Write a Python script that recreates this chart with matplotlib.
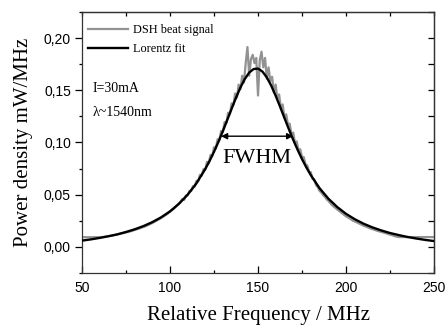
import matplotlib
matplotlib.use("Agg")
import matplotlib.pyplot as plt
from matplotlib.ticker import MultipleLocator

# --- data ---
# measured beat signal (MHz, mW/MHz)
sig_x = [50, 58, 60, 62, 64, 66, 68, 70, 72, 74, 76, 78, 80, 82, 84, 86, 88, 90,
         92, 94, 96, 98, 100, 102, 104, 106, 107, 108, 109, 110, 111, 112, 113,
         114, 115, 116, 117, 118, 119, 120, 121, 122, 123, 124, 125, 126, 127,
         128, 129, 130, 131, 132, 133, 134, 135, 136, 137, 138, 139, 140, 141,
         142, 143, 144, 145, 146, 147, 148, 149, 150, 151, 152, 153, 154, 155,
         156, 157, 158, 159, 160, 161, 162, 163, 164, 165, 166, 167, 168, 169,
         170, 171, 172, 173, 174, 175, 176, 177, 178, 179, 180, 181, 182, 183,
         184, 185, 186, 187, 188, 189, 190, 192, 194, 196, 198, 200, 202, 204,
         206, 208, 210, 212, 214, 216, 218, 220, 222, 224, 226, 228, 230, 250]
sig_y = [0.0092, 0.0092, 0.0092, 0.0094, 0.0099, 0.0103, 0.0110, 0.0117, 0.0126,
         0.0133, 0.0142, 0.0150, 0.0162, 0.0172, 0.0185, 0.0196, 0.0212, 0.0228,
         0.0247, 0.0266, 0.0288, 0.0309, 0.0336, 0.0362, 0.0398, 0.0433, 0.0458,
         0.0449, 0.0492, 0.0494, 0.0535, 0.0534, 0.0580, 0.0577, 0.0632, 0.0628,
         0.0690, 0.0680, 0.0745, 0.0738, 0.0815, 0.0801, 0.0880, 0.0869, 0.0955,
         0.0941, 0.1030, 0.1018, 0.1110, 0.1101, 0.1195, 0.1185, 0.1285, 0.1271,
         0.1375, 0.1358, 0.1470, 0.1430, 0.1555, 0.1510, 0.1640, 0.1575, 0.1760,
         0.1915, 0.1640, 0.1800, 0.1840, 0.1760, 0.1810, 0.1450, 0.1790, 0.1870,
         0.1720, 0.1810, 0.1610, 0.1720, 0.1590, 0.1630, 0.1480, 0.1555, 0.1420,
         0.1460, 0.1330, 0.1365, 0.1240, 0.1270, 0.1175, 0.1180, 0.1080, 0.1095,
         0.0995, 0.1010, 0.0925, 0.0935, 0.0860, 0.0860, 0.0790, 0.0780, 0.0720,
         0.0715, 0.0650, 0.0645, 0.0590, 0.0570, 0.0535, 0.0520, 0.0495, 0.0480,
         0.0455, 0.0440, 0.0400, 0.0372, 0.0345, 0.0318, 0.0292, 0.0272, 0.0250,
         0.0235, 0.0218, 0.0202, 0.0188, 0.0175, 0.0163, 0.0152, 0.0143, 0.0133,
         0.0123, 0.0112, 0.0100, 0.0093, 0.0093]

# Lorentz fit curve
fit_x = [50, 55, 60, 65, 70, 75, 80, 85, 90, 95, 100, 105, 110, 115, 120, 122.5,
         125, 127.5, 130, 132.5, 135, 137.5, 140, 142.5, 145, 147.5, 150, 152.5,
         155, 157.5, 160, 162.5, 165, 167.5, 170, 172.5, 175, 177.5, 180, 185,
         190, 195, 200, 205, 210, 215, 220, 225, 230, 235, 240, 245, 250]
fit_y = [0.0059, 0.0071, 0.0085, 0.0101, 0.0119, 0.0142, 0.0168, 0.0199, 0.0237,
         0.0283, 0.0340, 0.0411, 0.0499, 0.0608, 0.0745, 0.0824, 0.0911, 0.1006,
         0.1108, 0.1215, 0.1323, 0.1429, 0.1527, 0.1609, 0.1670, 0.1704, 0.1708,
         0.1680, 0.1624, 0.1545, 0.1449, 0.1345, 0.1236, 0.1129, 0.1026, 0.0930,
         0.0841, 0.0760, 0.0687, 0.0561, 0.0461, 0.0381, 0.0316, 0.0264, 0.0221,
         0.0186, 0.0157, 0.0132, 0.0112, 0.0094, 0.0079, 0.0066, 0.0055]

fwhm_lo, fwhm_hi, fwhm_level = 129, 170, 0.106

xticks = [50, 100, 150, 200, 250]
yticks = [0.00, 0.05, 0.10, 0.15, 0.20]
ytick_labels = ["0,00", "0,05", "0,10", "0,15", "0,20"]

serif = ["Liberation Serif", "DejaVu Serif"]
sans = ["Liberation Sans", "DejaVu Sans"]

fig = plt.figure(figsize=(4.46, 3.26), dpi=100)
ax = fig.add_axes([0.184, 0.163, 0.789, 0.800])

ax.plot(sig_x, sig_y, color="#929292", lw=1.6, label="DSH beat signal", zorder=2)
ax.plot(fit_x, fit_y, color="black", lw=1.7, label="Lorentz fit", zorder=3)

ax.set_xlim(50, 250)
ax.set_ylim(-0.025, 0.225)

ax.set_xticks(xticks)
ax.set_xticklabels([str(v) for v in xticks], family=sans, fontsize=10)
ax.set_yticks(yticks)
ax.set_yticklabels(ytick_labels, family=sans, fontsize=10)
ax.xaxis.set_minor_locator(MultipleLocator(25))
ax.yaxis.set_minor_locator(MultipleLocator(0.025))

ax.tick_params(axis="x", which="major", direction="in", length=5, width=0.9, pad=6)
ax.tick_params(axis="x", which="minor", direction="in", length=2.5, width=0.9)
ax.tick_params(axis="y", which="major", direction="out", length=5, width=0.9, pad=3)
ax.tick_params(axis="y", which="minor", direction="out", length=2.5, width=0.9)

# top and right ticks point inwards, without labels
top = ax.secondary_xaxis("top")
top.set_xticks(xticks)
top.xaxis.set_minor_locator(MultipleLocator(25))
top.tick_params(which="both", direction="in", length=3, width=0.9, labeltop=False)
right = ax.secondary_yaxis("right")
right.set_yticks(yticks)
right.yaxis.set_minor_locator(MultipleLocator(0.025))
right.tick_params(which="both", direction="in", length=4, width=0.9, labelright=False)

for s in list(ax.spines.values()) + [top.spines["top"], right.spines["right"]]:
    s.set_linewidth(0.9)
    s.set_color("#333333")

ax.set_xlabel("Relative Frequency / MHz", family=serif, fontsize=15, labelpad=8)
ax.set_ylabel("Power density mW/MHz", family=serif, fontsize=15, labelpad=8)

ax.legend(loc="upper left", bbox_to_anchor=(0.0065, 0.968), frameon=False,
          prop={"family": serif, "size": 8.8},
          handlelength=3.3, handletextpad=0.4, labelspacing=0.6,
          borderaxespad=0.0, borderpad=0.3)

ax.text(0.03, 0.695, "I=30mA", transform=ax.transAxes, family=serif, fontsize=10)
ax.text(0.03, 0.60, "λ~1540nm", transform=ax.transAxes, family=serif, fontsize=10)

ax.annotate("", xy=(fwhm_lo, fwhm_level), xytext=(fwhm_hi, fwhm_level),
            arrowprops=dict(arrowstyle="<|-|>", color="black", lw=1.0,
                            mutation_scale=9, shrinkA=0, shrinkB=0), zorder=4)
ax.text((fwhm_lo + fwhm_hi) / 2, 0.094, "FWHM", ha="center", va="top",
        family=serif, fontsize=16)

fig.savefig("out.png", dpi=100)
